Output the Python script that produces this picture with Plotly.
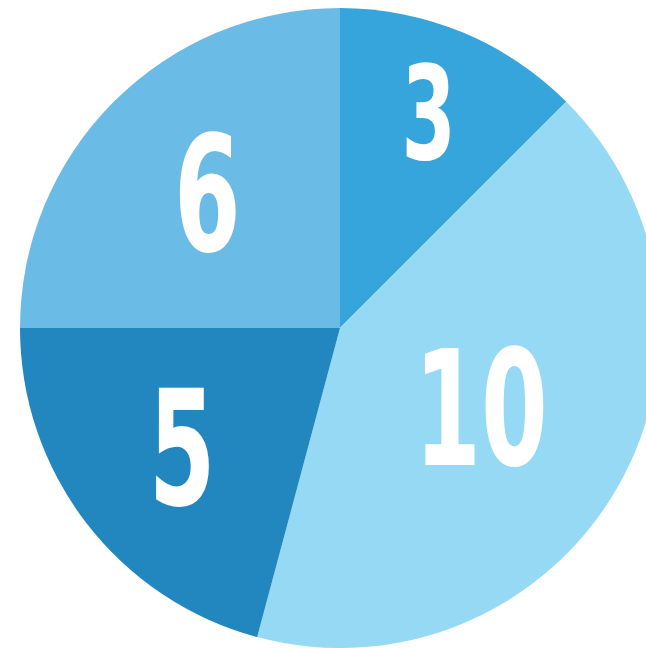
import plotly.graph_objects as go

labels = ["A", "B", "C", "D"]
values = [3, 10, 5, 6]
colors = ["#36A5DC", "#96D9F5", "#2287BE", "#6BBBE7"]

fig = go.Figure(go.Pie(
    labels=labels,
    values=values,
    sort=False,
    direction="clockwise",
    rotation=0,
    marker=dict(colors=colors, line=dict(width=0)),
    textinfo="value",
    textposition="inside",
    insidetextorientation="horizontal",
    textfont=dict(family="DejaVu Sans, sans-serif",
                  size=160, color="white", weight="bold"),
    hoverinfo="skip",
    showlegend=False,
    domain=dict(x=[0, 1], y=[0, 1]),
))

fig.update_layout(
    width=660, height=648,
    margin=dict(l=20, r=0, t=8, b=0),
    paper_bgcolor="white",
    plot_bgcolor="white",
    showlegend=False,
)

post = """
document.body.style.margin='0';
document.body.style.overflow='hidden';
document.documentElement.style.overflow='hidden';
document.querySelectorAll('text.slicetext').forEach(function(t){
  var w = t.getComputedTextLength();
  t.setAttribute('textLength', (w*0.6).toFixed(1));
  t.setAttribute('lengthAdjust', 'spacingAndGlyphs');
});
"""

fig.write_html("out.html", config={"displayModeBar": False}, post_script=post)
